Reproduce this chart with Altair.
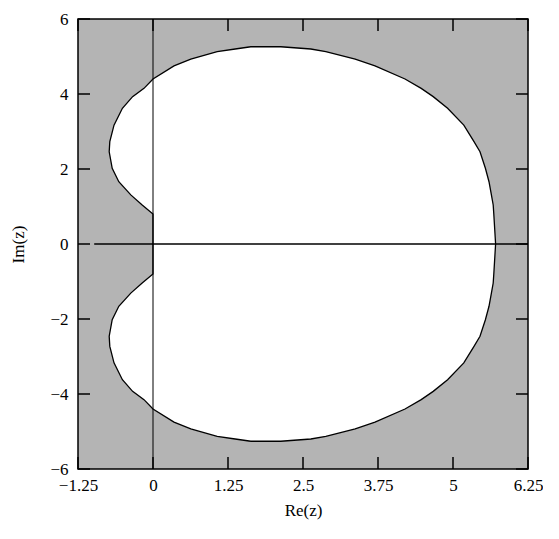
import altair as alt
import pandas as pd

# Upper half of the boundary (the region is symmetric about the real axis)
y_upper = [0.0, 0.8, 1.04, 1.31, 1.66, 2.02, 2.46, 2.73, 3.17, 3.62, 3.93, 4.15, 4.40, 4.75, 4.93, 5.13, 5.2, 5.26]
x_left_upper = [0.0, 0.0, -0.18, -0.37, -0.57, -0.68, -0.73, -0.72, -0.65, -0.51, -0.34, -0.15, 0.0, 0.35, 0.63, 1.07, 1.37, 1.63]
x_right_upper = [5.71, 5.68, 5.67, 5.64, 5.60, 5.54, 5.45, 5.35, 5.18, 4.91, 4.67, 4.47, 4.20, 3.70, 3.37, 2.88, 2.63, 2.13]

x_ticks = [-1.25, 0, 1.25, 2.5, 3.75, 5, 6.25]
y_ticks = [-6, -4, -2, 0, 2, 4, 6]
real_axis = [-0.98, 6.25]

ys = [-v for v in reversed(y_upper[1:])] + y_upper
xl = list(reversed(x_left_upper[1:])) + x_left_upper
xr = list(reversed(x_right_upper[1:])) + x_right_upper
region = pd.DataFrame({"y": ys, "x": xl, "x2": xr})

# closed outline: left side going up, right side going down
ox = xl + list(reversed(xr)) + [xl[0]]
oy = ys + list(reversed(ys)) + [ys[0]]
outline = pd.DataFrame({"x": ox, "y": oy, "o": list(range(len(ox)))})

W, H = 450, 450
FONT = "Liberation Serif"
xs = alt.Scale(domain=[-1.25, 6.25], nice=False, zero=False)
yscale = alt.Scale(domain=[-6, 6], nice=False, zero=False)

x_axis = alt.Axis(values=x_ticks, format=".3~g", title="Re(z)", grid=False, domain=False,
                  tickSize=0, labelPadding=8, labelFont=FONT, labelFontSize=17, labelColor="black",
                  titleFont=FONT, titleFontSize=17, titleFontWeight="normal", titleColor="black",
                  titlePadding=9, labelFlush=False)
y_axis = alt.Axis(values=y_ticks, format="d", title="Im(z)", grid=False, domain=False,
                  tickSize=0, labelPadding=10, labelFont=FONT, labelFontSize=17, labelColor="black",
                  titleFont=FONT, titleFontSize=17, titleFontWeight="normal", titleColor="black",
                  titlePadding=22, labelFlush=False)

def X(f):
    return alt.X(f, scale=xs, axis=x_axis)

def Y(f):
    return alt.Y(f, scale=yscale, axis=y_axis)

area = alt.Chart(region).mark_area(orient="horizontal", fill="white", fillOpacity=1).encode(
    y=Y("y:Q"),
    x=X("x:Q"),
    x2="x2:Q",
)

line = alt.Chart(outline).mark_line(color="black", strokeWidth=1.3).encode(
    x=X("x:Q"),
    y=Y("y:Q"),
    order="o:Q",
)

vrule = alt.Chart(pd.DataFrame({"x": [0]})).mark_rule(color="black", strokeWidth=1).encode(
    x=X("x:Q")
)

hrule = alt.Chart(pd.DataFrame({"x": [real_axis[0]], "x2": [real_axis[1]], "y": [0]})).mark_rule(
    color="black", strokeWidth=1.5).encode(
    x=X("x:Q"), x2="x2:Q",
    y=Y("y:Q"),
)

xt = pd.DataFrame({"x": x_ticks})
yt = pd.DataFrame({"y": y_ticks})
TL = 12
bottom_ticks = alt.Chart(xt).mark_rule(color="black", strokeWidth=1.5).encode(
    x=X("x:Q"), y=alt.value(H), y2=alt.value(H - TL))
top_ticks = alt.Chart(xt).mark_rule(color="black", strokeWidth=1.5).encode(
    x=X("x:Q"), y=alt.value(0), y2=alt.value(TL))
left_ticks = alt.Chart(yt).mark_rule(color="black", strokeWidth=1.5).encode(
    y=Y("y:Q"), x=alt.value(0), x2=alt.value(TL))
right_ticks = alt.Chart(yt).mark_rule(color="black", strokeWidth=1.5).encode(
    y=Y("y:Q"), x=alt.value(W), x2=alt.value(W - TL))

chart = alt.layer(area, line, vrule, hrule, bottom_ticks, top_ticks, left_ticks, right_ticks).properties(
    width=W, height=H,
    autosize=alt.AutoSizeParams(type="none"),
    padding={"left": 70, "top": 11, "right": 15, "bottom": 55},
    background="white",
).configure_view(fill="#b4b4b4", stroke="black", strokeWidth=1.5)

chart.save("out.html", embed_options={"renderer": "svg", "actions": False})
